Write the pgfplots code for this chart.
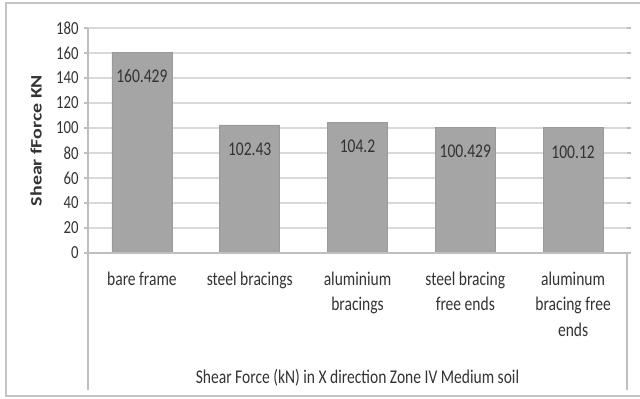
\documentclass[border=0pt]{standalone}
\usepackage{fontspec}
\setmainfont{Carlito}[FakeStretch=0.8]
\newfontfamily\ylabfont{Carlito}[FakeStretch=1.25]
\usepackage{pgfplots}
\pgfplotsset{compat=1.18}

\definecolor{barfill}{HTML}{A5A5A5}
\definecolor{bardraw}{HTML}{9A9A9A}
\definecolor{gridgray}{HTML}{D9D9D9}
\definecolor{axisgray}{HTML}{BFBFBF}
\definecolor{framegray}{HTML}{C4C4C4}
\definecolor{textgray}{HTML}{333333}

\begin{document}
\begin{tikzpicture}[x=1bp,y=1bp]
\useasboundingbox (0,0) rectangle (640,398);
% chart border
\draw[framegray, line width=1.6bp] (642,395) -- (6,395) -- (6,2) -- (642,2);
\begin{axis}[
  at={(88bp,145bp)}, anchor=south west,
  scale only axis, width=539bp, height=225bp,
  xmin=-0.5, xmax=4.5, ymin=0, ymax=180,
  ytick={0,20,...,180},
  xtick={0,1,2,3,4},
  xticklabels={bare frame, steel bracings, aluminium\\bracings, steel bracing\\free ends, aluminum\\bracing free\\ends},
  /pgf/number format/assume math mode=true,
  axis line style={draw=none},
  ymajorgrids, grid style={gridgray, line width=1.8bp},
  tick align=outside, major tick length=4bp,
  ytick style={axisgray, line width=1.2bp},
  xtick style={draw=none},
  yticklabel style={font=\fontsize{18.5}{22}\selectfont, text=textgray, xshift=-2bp},
  xticklabel style={font=\fontsize{19.5}{26}\selectfont, text=textgray, align=center, anchor=north, yshift=-11bp},
  ylabel={Shear fForce KN},
  ylabel style={font=\ylabfont\bfseries\fontsize{16}{19}\selectfont, text=textgray, at={(axis description cs:-0.0965,0.5)}, anchor=center},
  xlabel={Shear Force (kN) in X direction Zone IV Medium soil},
  xlabel style={font=\fontsize{19.5}{26}\selectfont, text=textgray, at={(axis description cs:0.5,0)}, anchor=center, yshift=-125bp},
  clip=false,
]
\addplot[ybar, bar width=60bp, fill=barfill, draw=bardraw, line width=0.8bp,
  nodes near coords, point meta=explicit symbolic,
  every node near coord/.append style={anchor=center, yshift=-24bp, font=\fontsize{19.5}{24}\selectfont, text=textgray}]
  coordinates {
    (0,160.429) [160.429]
    (1,102.43)  [102.43]
    (2,104.2)   [104.2]
    (3,100.429) [100.429]
    (4,100.12)  [100.12]
  };
% value axis, category axis and the box around the category labels
\draw[axisgray, line width=1.5bp] (rel axis cs:0,1) -- (rel axis cs:0,-0.609);
\draw[axisgray, line width=1.5bp] (rel axis cs:0,0) -- (rel axis cs:1,0) -- (rel axis cs:1,-0.609);
\end{axis}
\end{tikzpicture}
\end{document}
